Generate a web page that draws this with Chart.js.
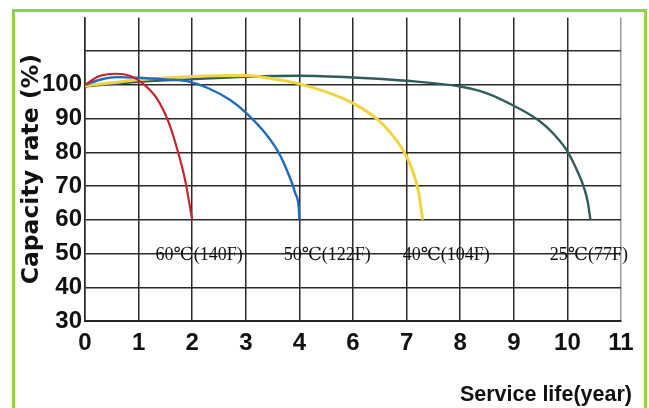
<!DOCTYPE html>
<html>
<head>
<meta charset="utf-8">
<script src="https://cdn.jsdelivr.net/npm/chart.js@4.4.0/dist/chart.umd.min.js"></script>
<style>
  body { margin: 0; background: #fff; }
  #lifeChart { display: block; }
</style>
</head>
<body>
<canvas id="lifeChart" width="649" height="408"></canvas>
<script>
// x positions are grid columns 0..10; the printed labels skip "5"
let xLabels = ['0', '1', '2', '3', '4', '6', '7', '8', '9', '10', '11'];
let yLabels = [30, 40, 50, 60, 70, 80, 90, 100];

let red60X = [0, 0.25, 0.58, 0.85, 1.08, 1.33, 1.55, 1.71, 1.87, 2.0];
let red60Y = [100, 102.5, 103.3, 102.6, 100.4, 96.2, 89.3, 81.5, 71.6, 60];

let blue50X = [0, 0.3, 0.6, 1.0, 1.5, 1.9, 2.3, 2.71, 3.02, 3.33, 3.61, 3.79, 3.92, 3.99, 4.0];
let blue50Y = [100, 101.6, 102.3, 102.1, 101.6, 101.1, 99, 95.5, 91.5, 86.3, 80, 73.8, 68, 63.2, 60];

let yellow40X = [0, 0.5, 1, 2, 3, 3.5, 4, 4.5, 5, 5.44, 5.69, 5.94, 6.09, 6.22, 6.3];
let yellow40Y = [99.7, 100.6, 101.5, 102.5, 102.8, 101.8, 100.3, 97.9, 94.6, 90, 86, 80.5, 75.5, 68.5, 60];

let teal25X = [0, 1, 2, 3, 4, 5, 6, 7, 7.5, 8, 8.46, 8.74, 9.0, 9.17, 9.3, 9.38, 9.43];
let teal25Y = [99.5, 100.9, 101.7, 102.4, 102.7, 102.2, 101.2, 99.5, 97.5, 93.8, 89.5, 85.5, 80.3, 75, 70, 65.3, 60];

let curveLabels = ['60℃(140F)', '50℃(122F)', '40℃(104F)', '25℃(77F)'];
let curveLabelX = [2.13, 4.52, 6.74, 9.4];
let curveLabelY = [49.4, 49.4, 49.4, 49.4];

let toPoints = (xs, ys) => xs.map((x, i) => ({ x: x, y: ys[i] }));

let line = (label, xs, ys, color, width) => ({
  label: label,
  data: toPoints(xs, ys),
  borderColor: color,
  borderWidth: width,
  fill: false,
  cubicInterpolationMode: 'monotone',
  pointRadius: 0,
});

let frame = {
  id: 'frame',
  afterDraw(chart) {
    let ctx = chart.ctx;
    ctx.save();
    ctx.strokeStyle = '#8fd14f';
    ctx.lineWidth = 3;
    ctx.strokeRect(13.5, 10.5, 632, 420);
    ctx.restore();
  },
};

let curveTexts = {
  id: 'curveTexts',
  afterDatasetsDraw(chart) {
    let ctx = chart.ctx;
    let x = chart.scales.x;
    let y = chart.scales.y;
    ctx.save();
    ctx.fillStyle = '#111';
    ctx.font = '18px "Liberation Serif", "DejaVu Serif", serif';
    ctx.textAlign = 'center';
    ctx.textBaseline = 'middle';
    curveLabels.forEach((text, i) => {
      ctx.fillText(text, x.getPixelForValue(curveLabelX[i]), y.getPixelForValue(curveLabelY[i]));
    });

    ctx.font = 'bold 21.5px "Liberation Sans", sans-serif';
    ctx.textAlign = 'right';
    ctx.textBaseline = 'alphabetic';
    ctx.fillText('Service life(year)', 632, 401);
    ctx.restore();
  },
};

let tickFont = { family: '"Liberation Sans", sans-serif', size: 24, weight: 'bold' };

new Chart(document.getElementById('lifeChart').getContext('2d'), {
  type: 'line',
  data: {
    datasets: [
      line('60℃', red60X, red60Y, '#c7242c', 2.2),
      line('50℃', blue50X, blue50Y, '#1f6cbf', 2.4),
      line('40℃', yellow40X, yellow40Y, '#f0d53f', 3),
      line('25℃', teal25X, teal25Y, '#2f5d5a', 2.4),
    ],
  },
  options: {
    responsive: false,
    animation: false,
    layout: { padding: { left: 0, right: 28, top: 17, bottom: 0 } },
    plugins: {
      legend: { display: false },
      tooltip: { enabled: false },
    },
    scales: {
      x: {
        type: 'linear',
        min: 0,
        max: 10,
        afterFit: (scale) => { scale.height = 87; },
        afterBuildTicks: (scale) => {
          scale.ticks = xLabels.map((l, i) => ({ value: i }));
        },
        ticks: {
          color: '#111',
          font: tickFont,
          padding: 8,
          maxRotation: 0,
          autoSkip: false,
          callback: (value, index) => xLabels[index],
        },
        grid: {
          drawTicks: false,
          lineWidth: 1.5,
          color: (c) => (c.index === 10 ? '#9a9a9a' : '#2a2a2a'),
        },
        border: { color: '#222', width: 2 },
      },
      y: {
        min: 30,
        max: 120,
        afterFit: (scale) => { scale.width = 85; },
        ticks: {
          stepSize: 10,
          autoSkip: false,
          color: '#111',
          font: tickFont,
          padding: 3,
          callback: (value) => (yLabels.includes(value) ? value : ''),
        },
        grid: {
          drawTicks: false,
          lineWidth: 1.5,
          color: (c) => (c.tick.value === 120 ? 'rgba(0,0,0,0)' : '#2a2a2a'),
        },
        border: { color: '#2a2a2a', width: 1.5 },
        title: {
          display: true,
          text: 'Capacity rate (%)',
          color: '#111',
          font: { family: '"DejaVu Sans"', size: 23.5, weight: 'bold' },
          padding: { top: 18, bottom: 0 },
        },
      },
    },
  },
  plugins: [frame, curveTexts],
});
</script>
</body>
</html>
